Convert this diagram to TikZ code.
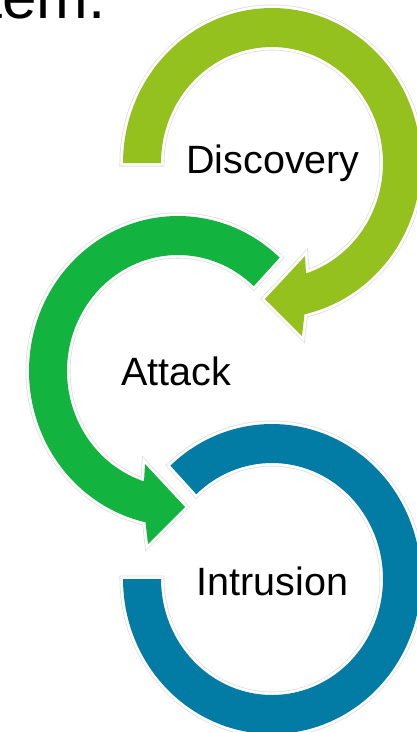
\documentclass[tikz,border=0pt]{standalone}
\usepackage{fontspec}
\setmainfont{Liberation Sans}
\definecolor{discgreen}{RGB}{149,193,31}
\definecolor{attgreen}{RGB}{18,179,62}
\definecolor{intblue}{RGB}{2,124,165}
\begin{document}
\begin{tikzpicture}[x=1pt,y=-1pt,
  ring/.style={fill=#1, line join=round,
    preaction={draw=black!13, line width=7pt},
    preaction={draw=white, line width=5.4pt}},
  lbl/.style={font=\fontsize{39.5}{44}\selectfont, text=black, inner sep=0pt, anchor=base}]
\useasboundingbox (0,0) rectangle (416,732);

% Intrusion: open ring, flat end on the left
\begin{scope}[shift={(272,579)}]
  \path[ring=intblue]
    plot[domain=227:540, samples=140] ({149*cos(\x)},{155*sin(\x)})
    -- plot[domain=540:227, samples=140] ({111*cos(\x)},{116*sin(\x)}) -- cycle;
\end{scope}

% Attack: counter-clockwise arc ending in an arrowhead
\begin{scope}[shift={(178,371)}]
  \path[ring=attgreen]
    plot[domain=313:102.6, samples=120] ({149*cos(\x)},{155*sin(\x)})
    -- (-30,173) -- (7,136) -- (-33,93) -- (-34,111)
    -- plot[domain=107.7:313, samples=120] ({111*cos(\x)},{116*sin(\x)}) -- cycle;
\end{scope}

% Discovery: clockwise arc ending in an arrowhead
\begin{scope}[shift={(272,163)}]
  \path[ring=discgreen]
    plot[domain=180:437.4, samples=120] ({149*cos(\x)},{155*sin(\x)})
    -- (30,173) -- (-7,136) -- (33,93) -- (34,111)
    -- plot[domain=432.3:180, samples=120] ({111*cos(\x)},{116*sin(\x)}) -- cycle;
\end{scope}

\node[lbl] (disc) at (273,173.5) {Discovery};
\node[lbl] (att) at (176,385) {Attack};
\node[lbl] (intr) at (272.5,595) {Intrusion};
\node[font=\fontsize{62}{70}\selectfont, inner sep=0pt, anchor=base east] (tail) at (106,18.3) {tem.};
\end{tikzpicture}
\end{document}
